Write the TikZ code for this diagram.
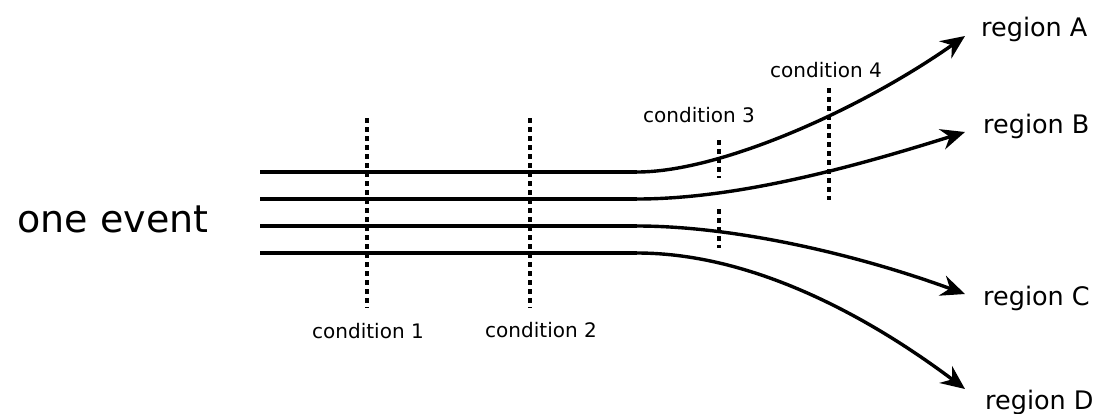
\documentclass[tikz,border=0pt]{standalone}
\usepackage{fontspec}
\setmainfont{DejaVu Sans}
\usetikzlibrary{arrows.meta}
\begin{document}
\begin{tikzpicture}[x=1pt,y=-1pt,
  track/.style={line width=3.4pt},
  flow/.style={line width=3.4pt,-{Stealth[length=24pt,width=21pt,inset=8pt]}},
  cut/.style={line width=3.2pt,dash pattern=on 4.5pt off 4.5pt},
  condlabel/.style={font=\fontsize{20}{24}\selectfont,inner sep=0pt},
  reglabel/.style={font=\fontsize{25.5}{30}\selectfont,inner sep=0pt,anchor=west},
  evlabel/.style={font=\fontsize{38}{44}\selectfont,inner sep=0pt}]
\useasboundingbox (0,0) rectangle (1099,413);
% coordinates
\coordinate (s1) at (260,172); \coordinate (b1) at (637,172);
\coordinate (s2) at (260,199); \coordinate (b2) at (637,199);
\coordinate (s3) at (260,226); \coordinate (b3) at (637,226);
\coordinate (s4) at (260,253); \coordinate (b4) at (637,253);
\coordinate (e1) at (965,36);
\coordinate (e2) at (965,132);
\coordinate (e3) at (965,294);
\coordinate (e4) at (965,389);
% labels
\node[evlabel] (ev) at (113,219) {one event};
\node[reglabel] (rA) at (981,29) {region A};
\node[reglabel] (rB) at (983,126) {region B};
\node[reglabel] (rC) at (983,298) {region C};
\node[reglabel] (rD) at (985,402) {region D};
\node[condlabel] (c1) at (368,331) {condition 1};
\node[condlabel] (c2) at (541,330) {condition 2};
\node[condlabel] (c3) at (699,115) {condition 3};
\node[condlabel] (c4) at (826,70) {condition 4};
% tracks
\draw[track] (s1) -- (b1);
\draw[track] (s2) -- (b2);
\draw[track] (s3) -- (b3);
\draw[track] (s4) -- (b4);
\draw[flow] (b1) .. controls (720,172) and (860,110) .. (e1);
\draw[flow] (b2) .. controls (740,199) and (860,165) .. (e2);
\draw[flow] (b3) .. controls (730,226) and (850,252) .. (e3);
\draw[flow] (b4) .. controls (760,253) and (880,325) .. (e4);
% cuts
\coordinate (d1t) at (367,118); \coordinate (d1b) at (367,308);
\coordinate (d2t) at (530,118); \coordinate (d2b) at (530,308);
\coordinate (d3t) at (719,140); \coordinate (d3m) at (719,178);
\coordinate (d3n) at (719,209); \coordinate (d3b) at (719,248);
\coordinate (d4t) at (829,88); \coordinate (d4b) at (829,200);
\draw[cut] (d1t) -- (d1b);
\draw[cut] (d2t) -- (d2b);
\draw[cut] (d3t) -- (d3m);
\draw[cut] (d3n) -- (d3b);
\draw[cut] (d4t) -- (d4b);
\end{tikzpicture}
\end{document}
